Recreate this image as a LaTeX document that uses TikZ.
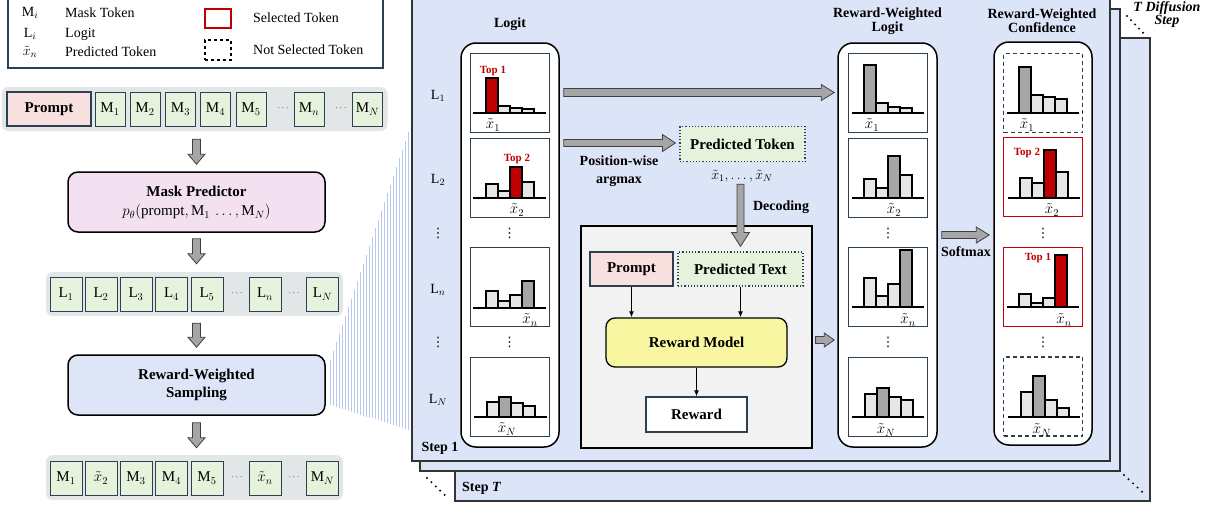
\RequirePackage{fix-cm}
\documentclass[tikz,border=0pt]{standalone}
\usepackage{fontspec}
\setmainfont{Liberation Serif}
\newfontfamily\djv{DejaVu Sans}
\usetikzlibrary{calc,arrows.meta}
\definecolor{panelblue}{HTML}{DCE4F8}
\definecolor{rowgray}{HTML}{E3E6E6}
\definecolor{tokgreen}{HTML}{E6F2DB}
\definecolor{prpink}{HTML}{F8E0DE}
\definecolor{mplav}{HTML}{F3E0F1}
\definecolor{rwblue}{HTML}{DDE5F7}
\definecolor{slate}{HTML}{2B4050}
\definecolor{barlight}{HTML}{E6E6E6}
\definecolor{bardark}{HTML}{A6A6A6}
\definecolor{barred}{HTML}{C00000}
\definecolor{arrgray}{HTML}{A6A6A6}
\definecolor{boxgray}{HTML}{F2F2F2}
\definecolor{rmyellow}{HTML}{F9F6A2}
\definecolor{fanblue}{HTML}{B8C8EE}
\newcommand{\blkD}[5]{\path[blk] ($#1+(-#3,0)$) -- ($#2+(-#3,-#5)$) -- ($#2+(-#4,-#5)$) -- #2 -- ($#2+(#4,-#5)$) -- ($#2+(#3,-#5)$) -- ($#1+(#3,0)$) -- cycle;}
\newcommand{\blkR}[5]{\path[blk] ($#1+(0,-#3)$) -- ($#2+(-#5,-#3)$) -- ($#2+(-#5,-#4)$) -- #2 -- ($#2+(-#5,#4)$) -- ($#2+(-#5,#3)$) -- ($#1+(0,#3)$) -- cycle;}
\newcommand{\cbar}[4]{\draw[barsty,fill=#4] (#1,#2) rectangle (#1+12,#3);}
\newcommand{\cbase}[3]{\draw[line width=1.3pt] (#1,#3) -- (#2,#3);}
\begin{document}
\begin{tikzpicture}[x=1pt,y=-1pt,
  tok/.style={draw=slate,line width=1pt,fill=tokgreen,minimum width=30pt,minimum height=34pt,inner sep=0pt,font=\fontsize{15}{17}\selectfont},
  ltok/.style={tok,minimum width=32pt},
  dts/.style={inner sep=0pt,font=\fontsize{9}{10}\selectfont},
  vdt/.style={inner sep=0pt,font=\djv\fontsize{13}{14}\selectfont},
  rowbg/.style={fill=rowgray,rounded corners=7pt,inner sep=0pt},
  bigbox/.style={draw=black,line width=1.5pt,rounded corners=10pt,inner sep=0pt},
  col/.style={draw=black,line width=1.5pt,rounded corners=15pt,fill=white,inner sep=0pt},
  chbox/.style={draw=slate,line width=0.9pt,fill=white,minimum width=79pt,minimum height=79pt,inner sep=0pt},
  barsty/.style={draw=black,line width=1.2pt},
  blk/.style={fill=arrgray,draw=black!75,line width=0.8pt},
  thinarr/.style={-{Latex[length=6pt,width=5pt]},line width=1.2pt},
  t14/.style={font=\fontsize{14}{16}\selectfont,inner sep=1pt},
  t13/.style={font=\fontsize{15}{16}\selectfont,inner sep=0pt},
  b15/.style={font=\bfseries\fontsize{15}{17}\selectfont,inner sep=1pt},
  b14/.style={font=\bfseries\fontsize{14}{14}\selectfont,align=center,inner sep=1pt},
  topl/.style={font=\bfseries\fontsize{11}{12}\selectfont,text=barred,inner sep=0pt},
  panel/.style={draw=black!80,line width=1.2pt,fill=panelblue}]
\useasboundingbox (0,0) rectangle (1211,506);

% ---------------- legend ----------------
\node[draw=slate,line width=1.2pt,minimum width=375pt,minimum height=75pt,inner sep=0pt] (legend) at (195.5,30.5) {};
\node[t14] (lgm) at (30,13) {$\mathrm{M}_i$};
\node[t14] (lgl) at (30,34) {$\mathrm{L}_i$};
\node[t14] (lgx) at (30,52) {$\tilde{x}_n$};
\node[t14,anchor=west] (lgmt) at (64,13) {Mask Token};
\node[t14,anchor=west] (lglt) at (64,34) {Logit};
\node[t14,anchor=west] (lgxt) at (64,52) {Predicted Token};
\node[draw=barred,line width=1.5pt,minimum width=26pt,minimum height=19pt,inner sep=0pt] (lgsel) at (218,18.5) {};
\node[draw=black,dashed,line width=1.3pt,minimum width=26pt,minimum height=20pt,inner sep=0pt] (lgnsel) at (218,50) {};
\node[t14,anchor=west] (lgselt) at (252,18) {Selected Token};
\node[t14,anchor=west] (lgnselt) at (252,50) {Not Selected Token};

% ---------------- left column ----------------
\node[rowbg,minimum width=386pt,minimum height=44pt] (r1bg) at (194.5,109) {};
\node[draw=slate,line width=1.2pt,fill=prpink,minimum width=84pt,minimum height=34pt,inner sep=0pt,font=\bfseries\fontsize{15}{17}\selectfont] (prompt1) at (49,109) {Prompt};
\node[tok] (m1) at (110,109) {$\mathrm{M}_1$};
\node[tok] (m2) at (145,109) {$\mathrm{M}_2$};
\node[tok] (m3) at (180.5,109) {$\mathrm{M}_3$};
\node[tok] (m4) at (215.5,109) {$\mathrm{M}_4$};
\node[tok] (m5) at (251,109) {$\mathrm{M}_5$};
\node[dts] (md1) at (283,108) {$\cdots$};
\node[tok] (mn) at (309,109) {$\mathrm{M}_n$};
\node[dts] (md2) at (341,108) {$\cdots$};
\node[tok] (mN) at (367.5,109) {$\mathrm{M}_N$};

\node[bigbox,fill=mplav,minimum width=257pt,minimum height=60pt] (mp) at (196.5,202) {};
\node[b15] (mpt) at (196.5,191) {Mask Predictor};
\node[t14,font=\fontsize{15}{17}\selectfont] (mpf) at (196.5,212) {$p_{\theta}(\mathrm{prompt},\mathrm{M}_1\,\ldots,\mathrm{M}_N)$};

\node[rowbg,minimum width=297pt,minimum height=44pt] (r2bg) at (194.5,294) {};
\node[ltok] (l1) at (66,294) {$\mathrm{L}_1$};
\node[ltok] (l2) at (101,294) {$\mathrm{L}_2$};
\node[ltok] (l3) at (136,294) {$\mathrm{L}_3$};
\node[ltok] (l4) at (171.5,294) {$\mathrm{L}_4$};
\node[ltok] (l5) at (207,294) {$\mathrm{L}_5$};
\node[dts] (ld1) at (237,293) {$\cdots$};
\node[ltok] (ln) at (265,294) {$\mathrm{L}_n$};
\node[dts] (ld2) at (294,293) {$\cdots$};
\node[ltok] (lN) at (322.5,294) {$\mathrm{L}_N$};

\node[bigbox,fill=rwblue,minimum width=257pt,minimum height=60pt] (rws) at (196.5,385) {};
\node[b15,align=center,font=\bfseries\fontsize{15}{18}\selectfont] (rwst) at (196.5,385) {Reward-Weighted\\Sampling};

\node[rowbg,minimum width=297pt,minimum height=45pt] (r3bg) at (194.5,477.5) {};
\node[ltok] (o1) at (66,478) {$\mathrm{M}_1$};
\node[ltok] (o2) at (101,478) {$\tilde{x}_2$};
\node[ltok] (o3) at (136,478) {$\mathrm{M}_3$};
\node[ltok] (o4) at (171.5,478) {$\mathrm{M}_4$};
\node[ltok] (o5) at (207,478) {$\mathrm{M}_5$};
\node[dts] (od1) at (237,477) {$\cdots$};
\node[ltok] (on) at (265,478) {$\tilde{x}_n$};
\node[dts] (od2) at (294,477) {$\cdots$};
\node[ltok] (oN) at (322.5,478) {$\mathrm{M}_N$};

\coordinate (a1s) at ($(r1bg.south -| mp.north)+(0,8)$);
\coordinate (a1e) at ($(mp.north)+(0,-7)$);
\coordinate (a2s) at ($(mp.south)+(0,6)$);
\coordinate (a2e) at ($(r2bg.north -| mp.south)+(0,-8)$);
\coordinate (a3s) at ($(r2bg.south -| rws.north)+(0,7)$);
\coordinate (a3e) at ($(rws.north)+(0,-7)$);
\coordinate (a4s) at ($(rws.south)+(0,7)$);
\coordinate (a4e) at ($(r3bg.north -| rws.south)+(0,-7)$);
\blkD{(a1s)}{(a1e)}{4}{8.5}{10}
\blkD{(a2s)}{(a2e)}{4}{8.5}{10}
\blkD{(a3s)}{(a3e)}{4}{8.5}{10}
\blkD{(a4s)}{(a4e)}{4}{8.5}{10}

% ---------------- fan ----------------
\foreach \i in {0,...,26}{
  \pgfmathsetmacro{\fanx}{330+3*\i}
  \pgfmathsetmacro{\fant}{360-(3*\i)*2.923}
  \pgfmathsetmacro{\fanb}{405+(3*\i)*0.3205}
  \draw[fanblue,line width=0.6pt] (\fanx,\fant) -- (\fanx,\fanb);
}

% ---------------- stacked panels ----------------
\path[panel] (455,38) rectangle (1150,501);
\path[panel] (420,9) rectangle (1120,471);
\path[panel] (412,-5) rectangle (1110,461);
\node[font=\bfseries\fontsize{14}{16}\selectfont,inner sep=0pt] (step1) at (440,448) {Step 1};
\node[font=\bfseries\fontsize{14}{16}\selectfont,inner sep=0pt,anchor=west] (stepT) at (462,488) {Step \textit{T}};
\node[font=\bfseries\itshape\fontsize{14}{13}\selectfont,align=center,inner sep=0pt] (tdiff) at (1167,15) {T Diffusion\\Step};
\foreach \k in {0,...,4}{
  \fill (427+4.4*\k,478+4.2*\k) circle (1.1pt);
  \fill (1124+4.5*\k,475+4.2*\k) circle (1.1pt);
  \fill (1127+4*\k,16+4.2*\k) circle (1.1pt);
}

% ---------------- logit column ----------------
\node[b14] (tlogit) at (510,24) {Logit};
\node[col,minimum width=98pt,minimum height=404pt] (logitcol) at (510,245) {};
\node[t14] (ll1) at (438,96) {$\mathrm{L}_1$};
\node[t14] (ll2) at (438,180) {$\mathrm{L}_2$};
\node[vdt] (lv1) at (438,233) {⋮};
\node[t14] (lln) at (438,290) {$\mathrm{L}_n$};
\node[vdt] (lv2) at (438,342) {⋮};
\node[t14] (llN) at (438,400) {$\mathrm{L}_N$};

\node[chbox] (cl1) at (509.5,92.5) {};
\node[chbox] (cl2) at (509.5,177.5) {};
\node[vdt] (clv1) at (509.5,233) {⋮};
\node[chbox] (cln) at (509.5,287) {};
\node[vdt] (clv2) at (509.5,342) {⋮};
\node[chbox] (clN) at (509.5,397) {};
% chart L1
\cbar{486}{78}{113}{barred}\cbar{498}{106}{113}{barlight}\cbar{510}{108}{113}{barlight}\cbar{522}{109}{113}{barlight}
\cbase{473}{546}{113}
\node[topl] (tl1) at (493,71) {Top 1};
\node[t13] (xl1) at (493,125) {$\tilde{x}_1$};
% chart L2
\cbar{486}{184}{198}{barlight}\cbar{498}{191}{198}{barlight}\cbar{510}{167}{198}{barred}\cbar{522}{182}{198}{barlight}
\cbase{473}{546}{198}
\node[topl] (tl2) at (517,159) {Top 2};
\node[t13] (xl2) at (517,210) {$\tilde{x}_2$};
% chart Ln
\cbar{486}{291}{308}{barlight}\cbar{498}{301}{308}{barlight}\cbar{510}{295}{308}{barlight}\cbar{522}{281}{308}{bardark}
\cbase{473}{546}{308}
\node[t13] (xln) at (530,320) {$\tilde{x}_n$};
% chart LN
\cbar{487}{402}{417}{barlight}\cbar{499}{397}{417}{bardark}\cbar{511}{403}{417}{barlight}\cbar{523}{406}{417}{barlight}
\cbase{474}{547}{417}
\node[t13] (xlN) at (507,429) {$\tilde{x}_N$};

% ---------------- middle ----------------
\node[draw=slate,dotted,line width=1.2pt,fill=tokgreen,minimum width=125pt,minimum height=35pt,inner sep=0pt,font=\bfseries\fontsize{15}{17}\selectfont] (predtok) at (742.5,144) {Predicted Token};
\node[t14,inner sep=0pt] (xlist) at (742,176) {$\tilde{x}_1,\ldots,\tilde{x}_N$};
\node[b15,align=center,font=\bfseries\fontsize{14}{18}\selectfont] (poswise) at (619,171) {Position-wise\\argmax};
\node[draw=black,line width=1.2pt,fill=boxgray,minimum width=231pt,minimum height=222pt,inner sep=0pt] (rmbox) at (696.5,337) {};
\node[draw=slate,line width=1.2pt,fill=prpink,minimum width=83pt,minimum height=34pt,inner sep=0pt,font=\bfseries\fontsize{15}{17}\selectfont] (prompt2) at (631.5,269) {Prompt};
\node[draw=slate,dotted,line width=1.2pt,fill=tokgreen,minimum width=125pt,minimum height=34pt,inner sep=0pt,font=\bfseries\fontsize{15}{17}\selectfont] (predtext) at (740.5,269) {Predicted Text};
\node[draw=black,line width=1.3pt,rounded corners=9pt,fill=rmyellow,minimum width=181pt,minimum height=49pt,inner sep=0pt,font=\bfseries\fontsize{15}{17}\selectfont] (rm) at (696.5,342.5) {Reward Model};
\node[draw=slate,line width=1.2pt,fill=white,minimum width=101pt,minimum height=35pt,inner sep=0pt,font=\bfseries\fontsize{15}{17}\selectfont] (reward) at (696.5,414.5) {Reward};
\node[b15,font=\bfseries\fontsize{14}{16}\selectfont] (decod) at (781,207) {Decoding};

\draw[thinarr] (prompt2.south) -- (prompt2.south |- rm.north);
\draw[thinarr] (predtext.south) -- (predtext.south |- rm.north);
\draw[thinarr] (rm.south) -- (reward.north);

% ---------------- reward-weighted logit column ----------------
\node[b14] (trwl) at (887.5,21) {Reward-Weighted\\Logit};
\node[col,minimum width=99pt,minimum height=404pt] (rwcol) at (887.5,245) {};
\node[chbox] (cr1) at (888,92.5) {};
\node[chbox] (cr2) at (888,177.5) {};
\node[vdt] (crv1) at (888,233) {⋮};
\node[chbox] (crn) at (888,286.5) {};
\node[vdt] (crv2) at (888,342) {⋮};
\node[chbox] (crN) at (888,397) {};
\cbar{864}{65}{113}{bardark}\cbar{876}{103}{113}{barlight}\cbar{888}{107}{113}{barlight}\cbar{900}{108}{113}{barlight}
\cbase{852}{924}{113}
\node[t13] (xr1) at (872,125) {$\tilde{x}_1$};
\cbar{864}{179}{198}{barlight}\cbar{876}{188}{198}{barlight}\cbar{888}{156}{198}{bardark}\cbar{900}{175}{198}{barlight}
\cbase{852}{924}{198}
\node[t13] (xr2) at (894,210) {$\tilde{x}_2$};
\cbar{864}{278}{307}{barlight}\cbar{876}{296}{307}{barlight}\cbar{888}{284}{307}{barlight}\cbar{900}{250}{307}{bardark}
\cbase{852}{924}{307}
\node[t13] (xrn) at (908,320) {$\tilde{x}_n$};
\cbar{865}{394}{417}{barlight}\cbar{877}{388}{417}{bardark}\cbar{889}{397}{417}{barlight}\cbar{901}{400}{417}{barlight}
\cbase{852}{924}{417}
\node[t13] (xrN) at (886,430) {$\tilde{x}_N$};

% ---------------- reward-weighted confidence column ----------------
\node[b14] (trwc) at (1042,21) {Reward-Weighted\\Confidence};
\node[col,minimum width=98pt,minimum height=403pt] (confcol) at (1043,243.5) {};
\node[chbox,draw=slate,dashed,line width=1.2pt,dash pattern=on 4pt off 3pt] (cc1) at (1043,93) {};
\node[chbox,draw=barred,line width=1.3pt] (cc2) at (1043,177) {};
\node[vdt] (ccv1) at (1043,233) {⋮};
\node[chbox,draw=barred,line width=1.3pt] (ccn) at (1043,287) {};
\node[vdt] (ccv2) at (1043,342) {⋮};
\node[chbox,draw=slate,dashed,line width=1.2pt,dash pattern=on 4pt off 3pt] (ccN) at (1043,396.5) {};
\cbar{1019}{67}{113}{bardark}\cbar{1031}{95}{113}{barlight}\cbar{1043}{97}{113}{barlight}\cbar{1055}{99}{113}{barlight}
\cbase{1007}{1079}{113}
\node[t13] (xc1) at (1027,125) {$\tilde{x}_1$};
\cbar{1020}{178}{198}{barlight}\cbar{1032}{183}{198}{barlight}\cbar{1044}{150}{198}{barred}\cbar{1056}{172}{198}{barlight}
\cbase{1008}{1080}{198}
\node[topl] (tc2) at (1027,153) {Top 2};
\node[t13] (xc2) at (1052,210) {$\tilde{x}_2$};
\cbar{1019}{294}{307}{barlight}\cbar{1031}{303}{307}{barlight}\cbar{1043}{298}{307}{barlight}\cbar{1055}{255}{307}{barred}
\cbase{1007}{1079}{307}
\node[topl] (tcn) at (1038,258) {Top 1};
\node[t13] (xcn) at (1064,320) {$\tilde{x}_n$};
\cbar{1021}{392}{417}{barlight}\cbar{1033}{376}{417}{bardark}\cbar{1045}{400}{417}{barlight}\cbar{1057}{408}{417}{barlight}
\cbase{1008}{1080}{417}
\node[t13] (xcN) at (1042,430) {$\tilde{x}_N$};

\node[b15,font=\bfseries\fontsize{14}{16}\selectfont] (softmax) at (966,252) {Softmax};

% ---------------- block arrows in panel ----------------
\coordinate (b1s) at ($(cl1.center -| logitcol.east)+(4,0)$);
\coordinate (b1e) at ($(cl1.center -| rwcol.west)+(-3,0)$);
\blkR{(b1s)}{(b1e)}{4}{8}{13}
\coordinate (b2s) at ($(predtok.west -| logitcol.east)+(4,-1)$);
\coordinate (b2e) at ($(predtok.west)+(-4,-1)$);
\blkR{(b2s)}{(b2e)}{3.5}{8.5}{13}
\coordinate (b3s) at ($(xlist.south -| predtext.north)+(0,2)$);
\coordinate (b3e) at ($(predtext.north)+(0,-5)$);
\blkD{(b3s)}{(b3e)}{3.5}{9}{14}
\coordinate (b4s) at ($(rmbox.east |- 0,340)+(3,0)$);
\coordinate (b4e) at ($(rwcol.west |- 0,340)+(-3,0)$);
\blkR{(b4s)}{(b4e)}{3.5}{7}{10}
\coordinate (b5s) at ($(rwcol.east |- 0,235)+(4,0)$);
\coordinate (b5e) at ($(confcol.west |- 0,235)+(-4,0)$);
\blkR{(b5s)}{(b5e)}{3.5}{8}{13}
\end{tikzpicture}
\end{document}
